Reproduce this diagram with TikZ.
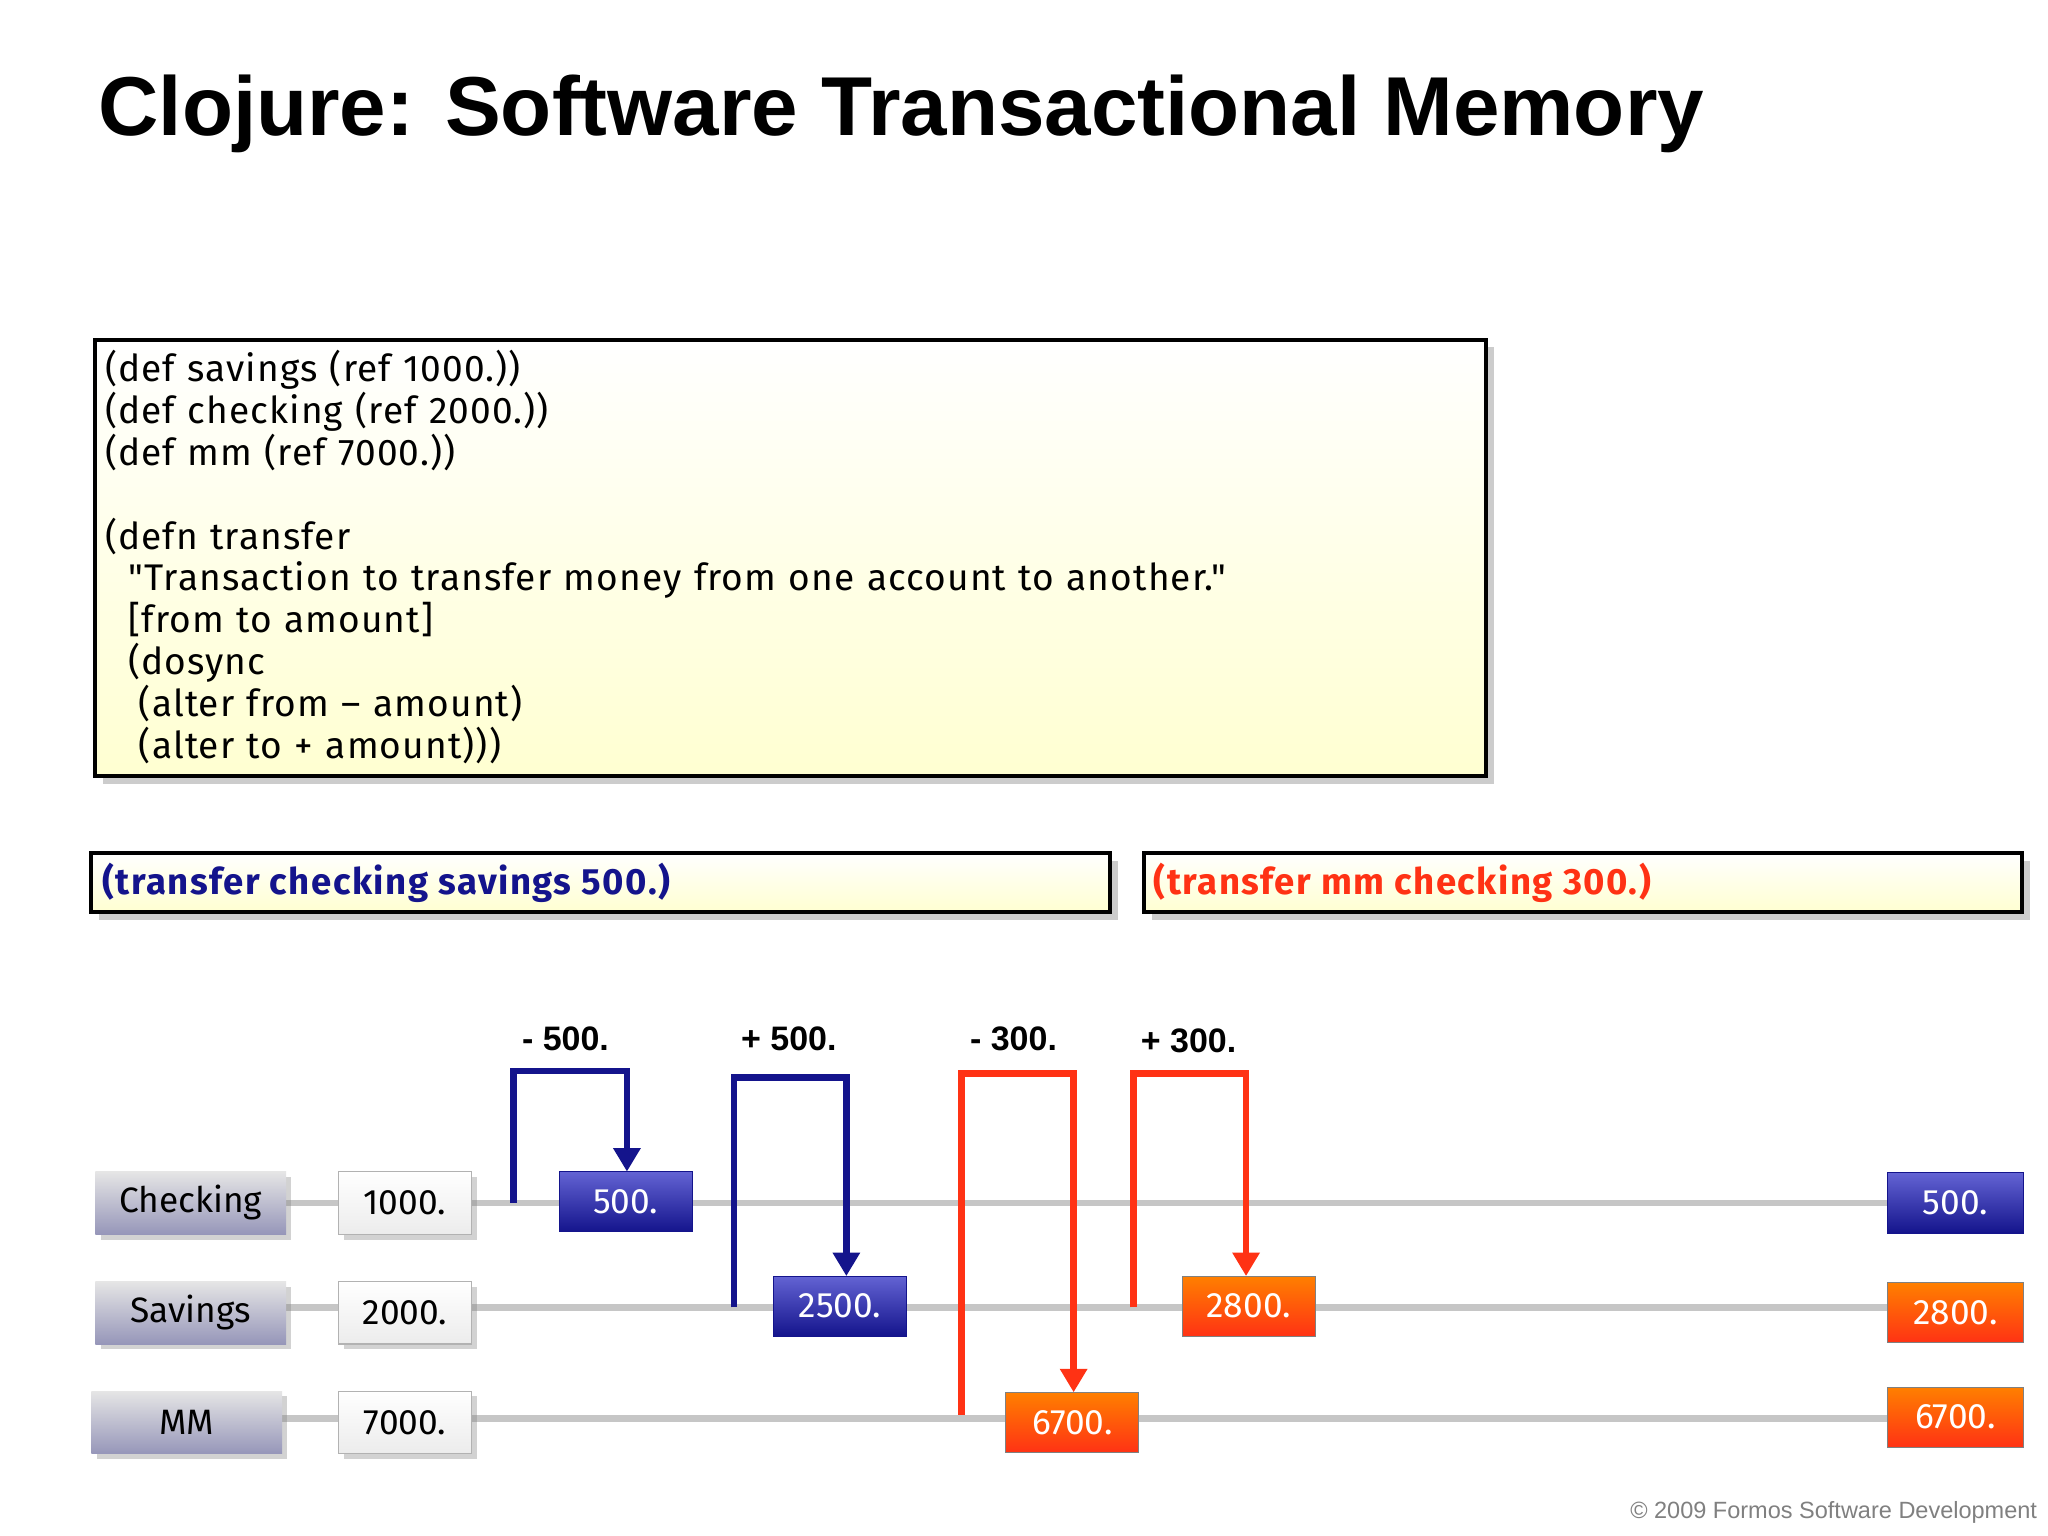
\documentclass[tikz,border=0pt]{standalone}
\usepackage{fontspec}
\setmainfont{Liberation Sans}
\newfontfamily\codefont{Fira Sans}
\usetikzlibrary{arrows.meta,shadows}
\definecolor{dblue}{RGB}{20,20,140}
\definecolor{bblue}{RGB}{60,60,200}
\definecolor{rred}{RGB}{255,50,20}
\definecolor{lav}{RGB}{150,150,185}
\begin{document}
\begin{tikzpicture}[x=0.5pt,y=-0.5pt,
  codebox/.style={draw=black,line width=1.5pt,top color=white,bottom color=yellow!18,drop shadow={shadow xshift=3pt,shadow yshift=-3pt,opacity=0.4}},
  lbl/.style={inner sep=0,outer sep=0,top color=gray!20,bottom color=lav,drop shadow={shadow xshift=2pt,shadow yshift=-2pt,opacity=0.35},font=\codefont\fontsize{13.5}{13.5}\selectfont},
  val/.style={inner sep=0,outer sep=0,draw=gray!60,top color=white,bottom color=gray!15,drop shadow={shadow xshift=2pt,shadow yshift=-2pt,opacity=0.35},font=\codefont\fontsize{13.5}{13.5}\selectfont},
  bluebox/.style={inner sep=0,outer sep=0,draw=dblue,top color=bblue!80,bottom color=dblue,text=white,font=\codefont\fontsize{13.5}{13.5}\selectfont},
  orbox/.style={inner sep=0,outer sep=0,draw=gray,top color=orange,bottom color=rred,text=white,font=\codefont\fontsize{13.5}{13.5}\selectfont},
  track/.style={draw=gray!45,line width=2.5pt},
  bconn/.style={draw=dblue,line width=2.5pt,-{Triangle[length=9pt,width=10pt]}},
  rconn/.style={draw=rred,line width=2.5pt,-{Triangle[length=9pt,width=10pt]}},
  op/.style={font=\bfseries\fontsize{13}{13}\selectfont}]
\useasboundingbox[fill=white] (0,0) rectangle (1568,1176);
\node[anchor=base west,font=\bfseries\fontsize{32}{32}\selectfont,inner sep=0] (title) at (75,104) {Clojure: Software Transactional Memory};
\path[codebox] (73,260) rectangle (1138,594);
\node[anchor=north west,align=left,inner sep=0,font=\codefont\fontsize{14.2}{16}\selectfont,text width=530pt] (code) at (80,268) {%
\addfontfeatures{LetterSpace=3}(def savings (ref 1000.))\\(def checking (ref 2000.))\\(def mm (ref 7000.))\\[16pt]%
(defn transfer\\\hspace*{9pt}"Transaction to transfer money from one account to another."\\\hspace*{9pt}[from to amount]\\\hspace*{9pt}(dosync\\\hspace*{13pt}(alter from – amount)\\\hspace*{13pt}(alter to + amount)))};
\path[codebox] (70,653) rectangle (850,698);
\node[anchor=west,inner sep=0,text=dblue,font=\codefont\bfseries\fontsize{14}{14}\selectfont\addfontfeatures{LetterSpace=4}] (t1) at (78,676) {(transfer checking savings 500.)};
\path[codebox] (876,653) rectangle (1548,698);
\node[anchor=west,inner sep=0,text=rred,font=\codefont\bfseries\fontsize{14}{14}\selectfont\addfontfeatures{LetterSpace=4}] (t2) at (883,676) {(transfer mm checking 300.)};
% tracks
\draw[track] (219,921) -- (1445,921);
\draw[track] (219,1001) -- (1445,1001);
\draw[track] (215,1086) -- (1445,1086);
% labels
\node[lbl,minimum width=73pt,minimum height=24pt] (chk) at (146,921) {Checking};
\node[lbl,minimum width=73pt,minimum height=24pt] (sav) at (146,1005) {Savings};
\node[lbl,minimum width=73pt,minimum height=24pt] (mm) at (143,1089) {MM};
\node[val,minimum width=51pt,minimum height=24pt] (v1) at (310,921) {1000.};
\node[val,minimum width=51pt,minimum height=24pt] (v2) at (310,1005) {2000.};
\node[val,minimum width=51pt,minimum height=24pt] (v3) at (310,1089) {7000.};
\node[bluebox,minimum width=51pt,minimum height=23pt] (b1) at (479,920) {500.};
\node[bluebox,minimum width=51pt,minimum height=23pt] (b2) at (643,1000) {2500.};
\node[orbox,minimum width=51pt,minimum height=23pt] (o1) at (821,1089) {6700.};
\node[orbox,minimum width=51pt,minimum height=23pt] (o2) at (956,1000) {2800.};
\node[bluebox,minimum width=52pt,minimum height=23pt] (f1) at (1497,921) {500.};
\node[orbox,minimum width=52pt,minimum height=23pt] (f2) at (1497,1005) {2800.};
\node[orbox,minimum width=52pt,minimum height=23pt] (f3) at (1497,1085) {6700.};
% connectors
\coordinate (s1) at (393,921);
\coordinate (s2) at (562,1001);
\coordinate (s3) at (736,1083);
\coordinate (s4) at (868,1001);
\draw[bconn] (s1) |- (480,820) -- (b1.north -| 480,0);
\draw[bconn] (s2) |- (648,825) -- (b2.north -| 648,0);
\draw[rconn] (s3) |- (822,822) -- (o1.north -| 822,0);
\draw[rconn] (s4) |- (954,822) -- (o2.north -| 954,0);
\node[op] (l1) at (433,795) {- 500.};
\node[op] (l2) at (604,795) {+ 500.};
\node[op] (l3) at (776,795) {- 300.};
\node[op] (l4) at (910,797) {+ 300.};
\node[anchor=east,text=gray,font=\fontsize{9}{9}\selectfont,inner sep=0] (foot) at (1560,1158) {© 2009 Formos Software Development};
\end{tikzpicture}
\end{document}
